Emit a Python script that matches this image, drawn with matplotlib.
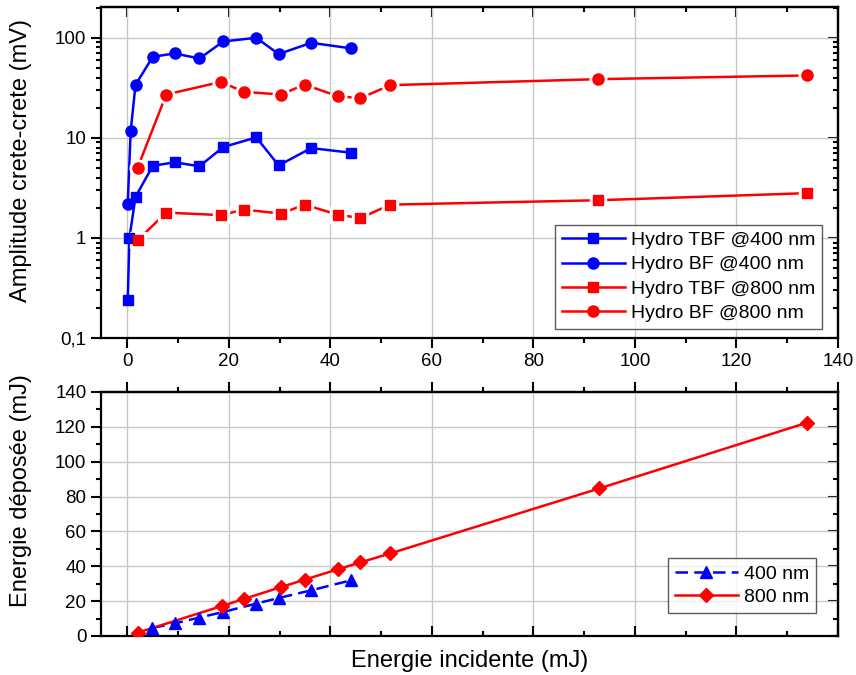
import matplotlib
matplotlib.use("Agg")
import matplotlib.pyplot as plt
from matplotlib.ticker import FixedLocator, MultipleLocator, LogLocator, NullFormatter, FuncFormatter

plt.rcParams['font.family'] = ['Liberation Sans', 'DejaVu Sans']

# ---- Data: top panel (Amplitude crete-crete, mV) ----
x_400 = [0.07, 0.4, 1.6, 5.0, 9.3, 14.2, 18.9, 25.4, 29.8, 36.2, 44.1]
tbf_400 = [0.24, 1.0, 2.57, 5.25, 5.7, 5.2, 8.1, 10.1, 5.3, 7.9, 7.1]
x_400_bf = [0.07, 0.65, 1.6, 5.0, 9.3, 14.2, 18.9, 25.4, 29.8, 36.2, 44.1]
bf_400 = [2.2, 11.7, 33.9, 64.6, 69.7, 62.1, 91.9, 100.0, 68.7, 89.1, 78.3]

x_800 = [2.0, 7.65, 18.5, 22.9, 30.3, 34.9, 41.4, 45.9, 51.8, 92.8, 133.8]
tbf_800 = [0.95, 1.79, 1.69, 1.92, 1.75, 2.15, 1.71, 1.58, 2.15, 2.38, 2.8]
bf_800 = [5.0, 27.1, 36.3, 28.8, 27.1, 34.1, 26.1, 24.9, 33.6, 38.6, 42.0]

# ---- Data: bottom panel (Energie deposee, mJ) ----
xd_400 = [4.9, 9.3, 14.2, 18.9, 25.4, 29.8, 36.2, 44.1]
dep_400 = [4.6, 7.2, 10.6, 13.8, 18.6, 21.8, 26.2, 32.0]
xd_800 = [2.0, 18.6, 22.9, 30.3, 34.9, 41.4, 45.9, 51.8, 93.0, 133.8]
dep_800 = [1.9, 17.2, 21.2, 28.1, 32.3, 38.2, 42.2, 47.4, 84.7, 122.3]

x_ticks = [0, 20, 40, 60, 80, 100, 120, 140]

BLUE = '#0000ff'
RED = '#ff0000'

fig = plt.figure(figsize=(8.56, 6.75), dpi=100)
W, H = 856, 675
def rect(l, t, r, b):
    return [l / W, 1 - b / H, (r - l) / W, (b - t) / H]

ax1 = fig.add_axes(rect(101, 7, 838, 338))
ax2 = fig.add_axes(rect(101, 392, 838, 636))

lw = 1.8
ms = 7.5
XLIM = (-5.2, 140)
MAJ_L, MIN_L, TW = 7, 3.6, 1.5
TICK_FS = 13.5
LAB_FS = 17
LEG_FS = 14

def gapped(ax, x, y, color, marker, size, ls='-', label=None, gap=False):
    ax.plot(x, y, color=color, lw=lw, ls=ls, zorder=3)
    if gap:
        ax.plot(x, y, ls='none', marker=marker, ms=size + 4, mfc='white', mec='white', zorder=4)
    ax.plot(x, y, ls='none', marker=marker, ms=size, mfc=color, mec=color, zorder=5)
    h, = ax.plot([], [], color=color, lw=lw, ls=ls, marker=marker, ms=size, mfc=color, mec=color, label=label)
    return h

h1 = gapped(ax1, x_400, tbf_400, BLUE, 's', ms, label='Hydro TBF @400 nm')
h2 = gapped(ax1, x_400_bf, bf_400, BLUE, 'o', ms + 0.5, label='Hydro BF @400 nm')
h3 = gapped(ax1, x_800, tbf_800, RED, 's', ms, label='Hydro TBF @800 nm', gap=True)
h4 = gapped(ax1, x_800, bf_800, RED, 'o', ms + 0.5, label='Hydro BF @800 nm', gap=True)

ax1.set_yscale('log')
ax1.set_ylim(0.1, 203)
ax1.set_xlim(*XLIM)

def ylogfmt(v, pos):
    if v < 1:
        return '0,1'
    return '%d' % round(v)
ax1.yaxis.set_major_locator(FixedLocator([0.1, 1, 10, 100]))
ax1.yaxis.set_major_formatter(FuncFormatter(ylogfmt))
ax1.yaxis.set_minor_locator(LogLocator(base=10, subs=range(2, 10)))
ax1.yaxis.set_minor_formatter(NullFormatter())

g1 = gapped(ax2, xd_400, dep_400, BLUE, '^', ms + 1.5, ls=(0, (5, 2.5)), label='400 nm')
g2 = gapped(ax2, xd_800, dep_800, RED, 'D', ms, label='800 nm', gap=False)
ax2.set_ylim(0, 140)
ax2.set_xlim(*XLIM)
ax2.yaxis.set_major_locator(MultipleLocator(20))
ax2.yaxis.set_minor_locator(MultipleLocator(10))

for ax in (ax1, ax2):
    ax.xaxis.set_major_locator(FixedLocator(x_ticks))
    ax.xaxis.set_minor_locator(MultipleLocator(10))
    ax.grid(True, which='major', color='#c8c8c8', lw=1.0, zorder=0)
    ax.set_axisbelow(True)
    for s in ax.spines.values():
        s.set_linewidth(1.6)
    ax.tick_params(which='major', length=MAJ_L, width=TW, labelsize=TICK_FS, colors='black')
    ax.tick_params(which='minor', length=MIN_L, width=TW)

ax1.tick_params(axis='x', which='both', direction='out', bottom=True, top=False)
ax1.tick_params(axis='y', which='both', direction='out', left=True, right=False)
ax1.tick_params(axis='x', which='major', pad=4)
ax2.tick_params(axis='x', which='both', direction='in', bottom=True, top=False, labelbottom=False)
ax2.tick_params(axis='y', which='both', direction='out', left=True, right=False)

def style_sec(sec, direction):
    sec.tick_params(which='both', direction=direction, width=TW,
                    labeltop=False, labelright=False)
    sec.tick_params(which='major', length=MAJ_L)
    sec.tick_params(which='minor', length=MIN_L)

# mirrored ticks
sec1x = ax1.secondary_xaxis('top')
sec1x.xaxis.set_major_locator(FixedLocator(x_ticks))
sec1x.xaxis.set_minor_locator(MultipleLocator(10))
style_sec(sec1x, 'in')
sec1x.spines['top'].set_linewidth(1.6)

sec1y = ax1.secondary_yaxis('right')
sec1y.yaxis.set_major_locator(FixedLocator([0.1, 1, 10, 100]))
sec1y.yaxis.set_minor_locator(LogLocator(base=10, subs=range(2, 10)))
sec1y.yaxis.set_minor_formatter(NullFormatter())
style_sec(sec1y, 'in')
sec1y.spines['right'].set_linewidth(1.6)

sec2x = ax2.secondary_xaxis('top')
sec2x.xaxis.set_major_locator(FixedLocator(x_ticks))
sec2x.xaxis.set_minor_locator(MultipleLocator(10))
style_sec(sec2x, 'out')
sec2x.spines['top'].set_linewidth(1.6)

sec2y = ax2.secondary_yaxis('right')
sec2y.yaxis.set_major_locator(MultipleLocator(20))
sec2y.yaxis.set_minor_locator(MultipleLocator(10))
style_sec(sec2y, 'in')
sec2y.spines['right'].set_linewidth(1.6)

ax1.set_ylabel('Amplitude crete-crete (mV)', fontsize=LAB_FS)
ax2.set_ylabel('Energie déposée (mJ)', fontsize=LAB_FS)
ax2.set_xlabel('Energie incidente (mJ)', fontsize=LAB_FS, labelpad=10)
ax1.yaxis.set_label_coords(-0.094, 0.535)
ax2.yaxis.set_label_coords(-0.094, 0.595)

leg1 = ax1.legend(handles=[h1, h2, h3, h4], loc='lower right', bbox_to_anchor=(0.978, 0.027),
                  fontsize=LEG_FS, frameon=True, fancybox=False, handlelength=3.25,
                  handletextpad=0.3, labelspacing=0.35, borderpad=0.35, borderaxespad=0)
leg1.get_frame().set_edgecolor('#333333')
leg1.get_frame().set_linewidth(1.0)

leg2 = ax2.legend(handles=[g1, g2], loc='lower right', bbox_to_anchor=(0.970, 0.094),
                  fontsize=LEG_FS, frameon=True, fancybox=False, handlelength=3.25,
                  handletextpad=0.3, labelspacing=0.3, borderpad=0.35, borderaxespad=0)
leg2.get_frame().set_edgecolor('#333333')
leg2.get_frame().set_linewidth(1.0)

fig.savefig('out.png', dpi=100)
